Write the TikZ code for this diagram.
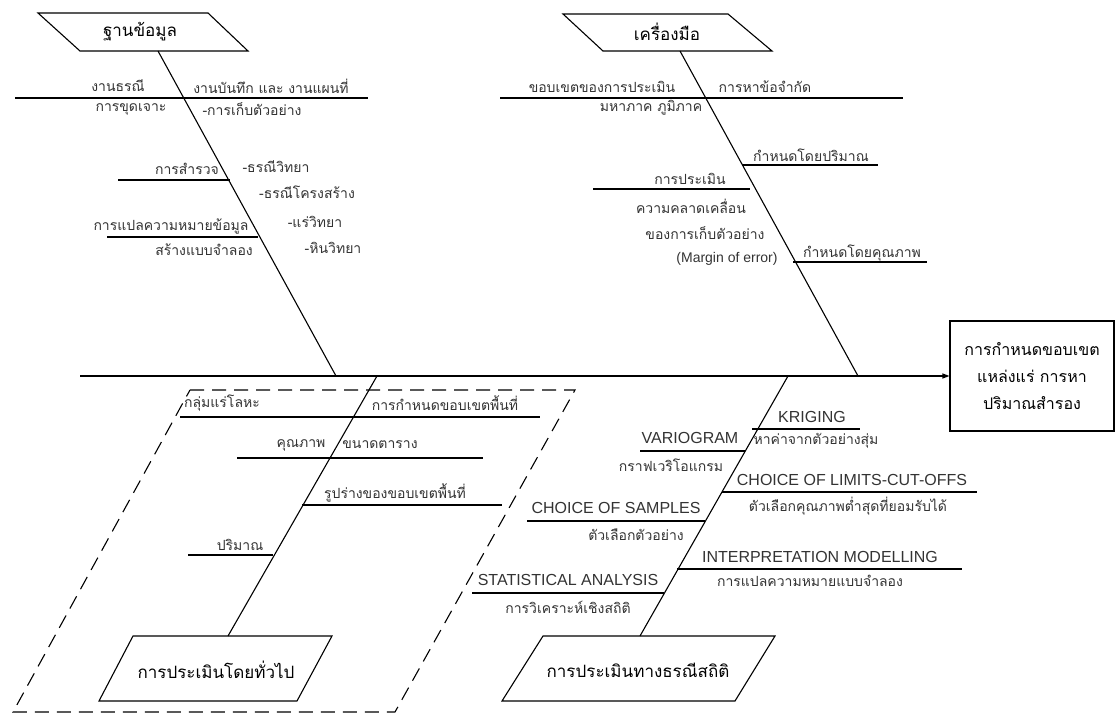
\documentclass[tikz,border=0pt]{standalone}
\usepackage{fontspec}
\setmainfont{Liberation Sans}
\newfontfamily\thai[Script=Thai]{Loma}
\usetikzlibrary{arrows.meta}

\begin{document}
\begin{tikzpicture}[x=1pt,y=-1pt,
		boxtext/.style={inner sep=0pt, font=\thai\fontsize{17}{20}\selectfont},
		boxline/.style={line width=1.1pt},
		headbox/.style={draw, rectangle, line width=1.1pt, minimum width=164pt, minimum height=110pt, align=center, font=\thai\fontsize{16}{27}\selectfont},
		th/.style={font=\thai\fontsize{14}{16}\selectfont, inner sep=0pt, text=black!80},
		en/.style={font=\fontsize{16}{18}\selectfont, inner sep=0pt, text=black!80},
		rib/.style={line width=1.1pt},
		]
		\useasboundingbox (0,0) rectangle (1117,714);
		
		%Nodes
		\node[boxtext] (db) at (140,32) {ฐานข้อมูล};
		\node[boxtext] (tool) at (667,32) {เครื่องมือ};
		\node[boxtext] (gen) at (216,670) {การประเมินโดยทั่วไป};
		\node[boxtext] (geo) at (638,670) {การประเมินทางธรณีสถิติ};
		\node[headbox] (head) at (1032,376) {การกำหนดขอบเขต\\แหล่งแร่ การหา\\ปริมาณสำรอง};
		\coordinate (tail) at (80,376);
		\coordinate (j1) at (336,376);
		\coordinate (j2) at (858,376);
		\coordinate (j3) at (377,376);
		\coordinate (j4) at (788,376);
		
		%Boxes
		\draw[boxline] ([shift={(-102,-19)}]db.center) -- ([shift={(68,-19)}]db.center) -- ([shift={(108,19)}]db.center) -- ([shift={(-60,19)}]db.center) -- cycle;
		\draw[boxline] ([shift={(-104,-18)}]tool.center) -- ([shift={(61,-18)}]tool.center) -- ([shift={(105,19)}]tool.center) -- ([shift={(-64,19)}]tool.center) -- cycle;
		\draw[boxline] ([shift={(-83,-34)}]gen.center) -- ([shift={(116,-34)}]gen.center) -- ([shift={(81,31)}]gen.center) -- ([shift={(-117,31)}]gen.center) -- cycle;
		\draw[boxline] ([shift={(-95,-34)}]geo.center) -- ([shift={(137,-34)}]geo.center) -- ([shift={(97,31)}]geo.center) -- ([shift={(-136,31)}]geo.center) -- cycle;
		
		%Labels top left
		\node[th] (a1) at (118,86) {งานธรณี};
		\node[th] (a2) at (271,86) {งานบันทึก และ งานแผนที่};
		\node[th] (a3) at (131,109) {การขุดเจาะ};
		\node[th] (a4) at (252,109) {-การเก็บตัวอย่าง};
		\node[th] (a5) at (187,169) {การสำรวจ};
		\node[th] (a6) at (276,167) {-ธรณีวิทยา};
		\node[th] (a7) at (307,192) {-ธรณีโครงสร้าง};
		\node[th] (a8) at (315,222) {-แร่วิทยา};
		\node[th] (a9) at (333,248) {-หินวิทยา};
		\node[th] (a10) at (171,226) {การแปลความหมายข้อมูล};
		\node[th] (a11) at (204,250) {สร้างแบบจำลอง};
		
		%Labels top right
		\node[th] (b1) at (602,87) {ขอบเขตของการประเมิน};
		\node[th] (b2) at (765,87) {การหาข้อจำกัด};
		\node[th] (b3) at (651,108) {มหาภาค ภูมิภาค};
		\node[th] (b4) at (811,155) {กำหนดโดยปริมาณ};
		\node[th] (b5) at (690,179) {การประเมิน};
		\node[th] (b6) at (691,206) {ความคลาดเคลื่อน};
		\node[th] (b7) at (705,233) {ของการเก็บตัวอย่าง};
		\node[en, font=\fontsize{14}{16}\selectfont] (b8) at (727,259) {(Margin of error)};
		\node[th] (b9) at (862,253) {กำหนดโดยคุณภาพ};
		
		%Labels bottom left
		\node[th] (c1) at (222,403) {กลุ่มแร่โลหะ};
		\node[th] (c2) at (445,403) {การกำหนดขอบเขตพื้นที่};
		\node[th] (c3) at (301,445) {คุณภาพ};
		\node[th] (c4) at (380,445) {ขนาดตาราง};
		\node[th] (c5) at (395,493) {รูปร่างของขอบเขตพื้นที่};
		\node[th] (c6) at (240,545) {ปริมาณ};
		
		%Labels bottom right
		\node[en] (d1) at (812,417) {KRIGING};
		\node[th] (d2) at (816,441) {หาค่าจากตัวอย่างสุ่ม};
		\node[en] (d3) at (690,438) {VARIOGRAM};
		\node[th] (d4) at (671,465) {กราฟเวริโอแกรม};
		\node[en] (d5) at (852,480) {CHOICE OF LIMITS-CUT-OFFS};
		\node[th] (d6) at (848,506) {ตัวเลือกคุณภาพต่ำสุดที่ยอมรับได้};
		\node[en] (d7) at (616,508) {CHOICE OF SAMPLES};
		\node[th] (d8) at (636,535) {ตัวเลือกตัวอย่าง};
		\node[en] (d9) at (820,557) {INTERPRETATION MODELLING};
		\node[th] (d10) at (810,581) {การแปลความหมายแบบจำลอง};
		\node[en] (d11) at (568,580) {STATISTICAL ANALYSIS};
		\node[th] (d12) at (568,607) {การวิเคราะห์เชิงสถิติ};
		
		%Lines
		\draw[line width=1.1pt, -{Triangle[length=7pt,width=5pt]}] (tail) -- (head);
		\draw[rib] ([shift={(18,19)}]db.center) -- (j1);
		\draw[rib] ([shift={(13,19)}]tool.center) -- (j2);
		\draw[rib] ([shift={(12,-34)}]gen.center) -- (j3);
		\draw[rib] ([shift={(2,-34)}]geo.center) -- (j4);
		
		\draw[rib] (15,98) -- (368,98);
		\draw[rib] (118,180) -- (230,180);
		\draw[rib] (107,237) -- (258,237);
		
		\draw[rib] (500,98) -- (903,98);
		\draw[rib] (742,165) -- (878,165);
		\draw[rib] (593,189) -- (750,189);
		\draw[rib] (793,262) -- (927,262);
		
		\draw[rib] (180,417) -- (540,417);
		\draw[rib] (237,458) -- (483,458);
		\draw[rib] (302,505) -- (502,505);
		\draw[rib] (188,555) -- (273,555);
		
		\draw[rib] (752,429) -- (860,429);
		\draw[rib] (640,451) -- (745,451);
		\draw[rib] (722,492) -- (977,492);
		\draw[rib] (527,521) -- (705,521);
		\draw[rib] (677,569) -- (962,569);
		\draw[rib] (472,593) -- (664,593);
		
		\draw[line width=1.1pt, dash pattern=on 14pt off 8pt] (190,390) -- (575,390) -- (395,712) -- (13,712) -- cycle;
		\end{tikzpicture}
\end{document}
